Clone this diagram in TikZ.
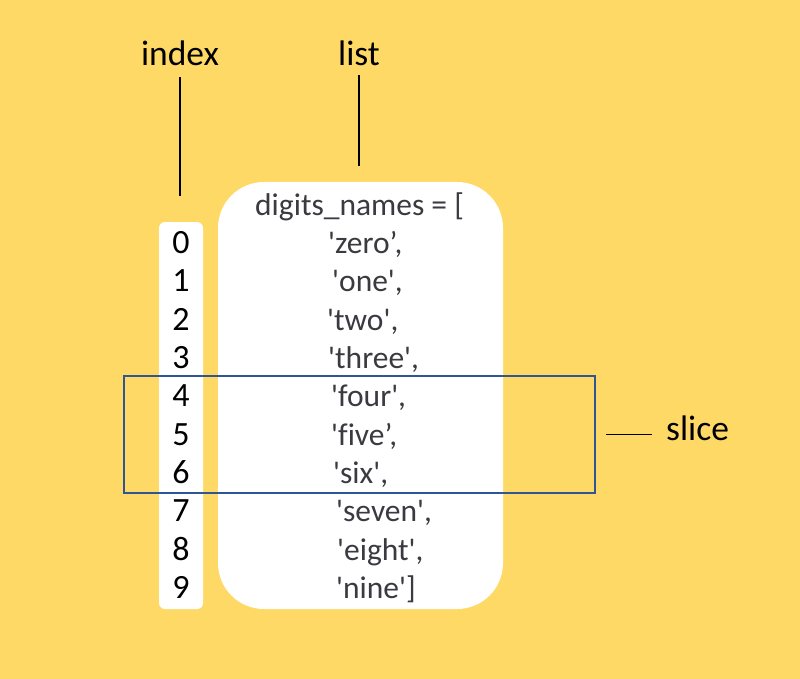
\documentclass[tikz,border=0pt]{standalone}
\usepackage{fontspec}
\setmainfont{Carlito}[Ligatures={TeXOff,NoCommon}]
\definecolor{bgyellow}{HTML}{FFD966}
\definecolor{sliceblue}{HTML}{2F5597}
\definecolor{listgray}{HTML}{3A3A40}

\begin{document}
\begin{tikzpicture}[x=1pt, y=-1pt, every node/.style={inner sep=0pt},
	label/.style={font=\fontsize{35.5}{42}\selectfont, text=black},
	idxnum/.style={font=\fontsize{34}{40}\selectfont, text=black, anchor=base},
	item/.style={font=\fontsize{31.5}{38}\selectfont, text=listgray, anchor=base west},
	whitebox/.style={fill=white, draw=none},
	leader/.style={draw=black, line width=1.2pt}]
	\fill[bgyellow] (0,0) rectangle (800,679);
	\useasboundingbox (0,0) rectangle (800,679);
	% white columns
	\node[whitebox, rounded corners=6pt, minimum width=44pt, minimum height=387pt] (idxbox) at (181,415.5) {};
	\node[whitebox, rounded corners=46pt, minimum width=285pt, minimum height=427pt] (listbox) at (360.5,395.5) {};
	% titles
	\node[label, anchor=base] (idxlabel) at (180,66) {index};
	\node[label, anchor=base] (listlabel) at (359,66) {list};
	\draw[leader, shorten <=11pt, shorten >=26pt] (idxlabel.south) -- (idxlabel.south |- idxbox.north);
	\draw[leader, shorten <=9pt, shorten >=16pt] (listlabel.south) -- (listlabel.south |- listbox.north);
	% rows
	\node[item] (head) at (255,215) {digits\_names = [};
	\foreach \i/\x/\w in {0/328/{'zero’,}, 1/332/{'one',}, 2/327/{'two',}, 3/328/{'three',},
		4/331/{'four',}, 5/331/{'five’,}, 6/333/{'six',}, 7/336/{'seven',}, 8/337/{'eight',}, 9/336/{'nine']}} {
		\node[idxnum] (n\i) at (181,{253.5+38.35*\i}) {\i};
		\node[item] (w\i) at (\x,{253.5+38.35*\i}) {\w};
	}
	% slice
	\node[draw=sliceblue, line width=1.6pt, minimum width=471pt, minimum height=117pt] (slicebox) at (359.5,434.5) {};
	\node[label, anchor=base west] (slicelabel) at (666,440) {slice};
	\draw[leader, shorten <=10pt, shorten >=14pt] (slicebox.east) -- (slicebox.east -| slicelabel.west);
\end{tikzpicture}
\end{document}
